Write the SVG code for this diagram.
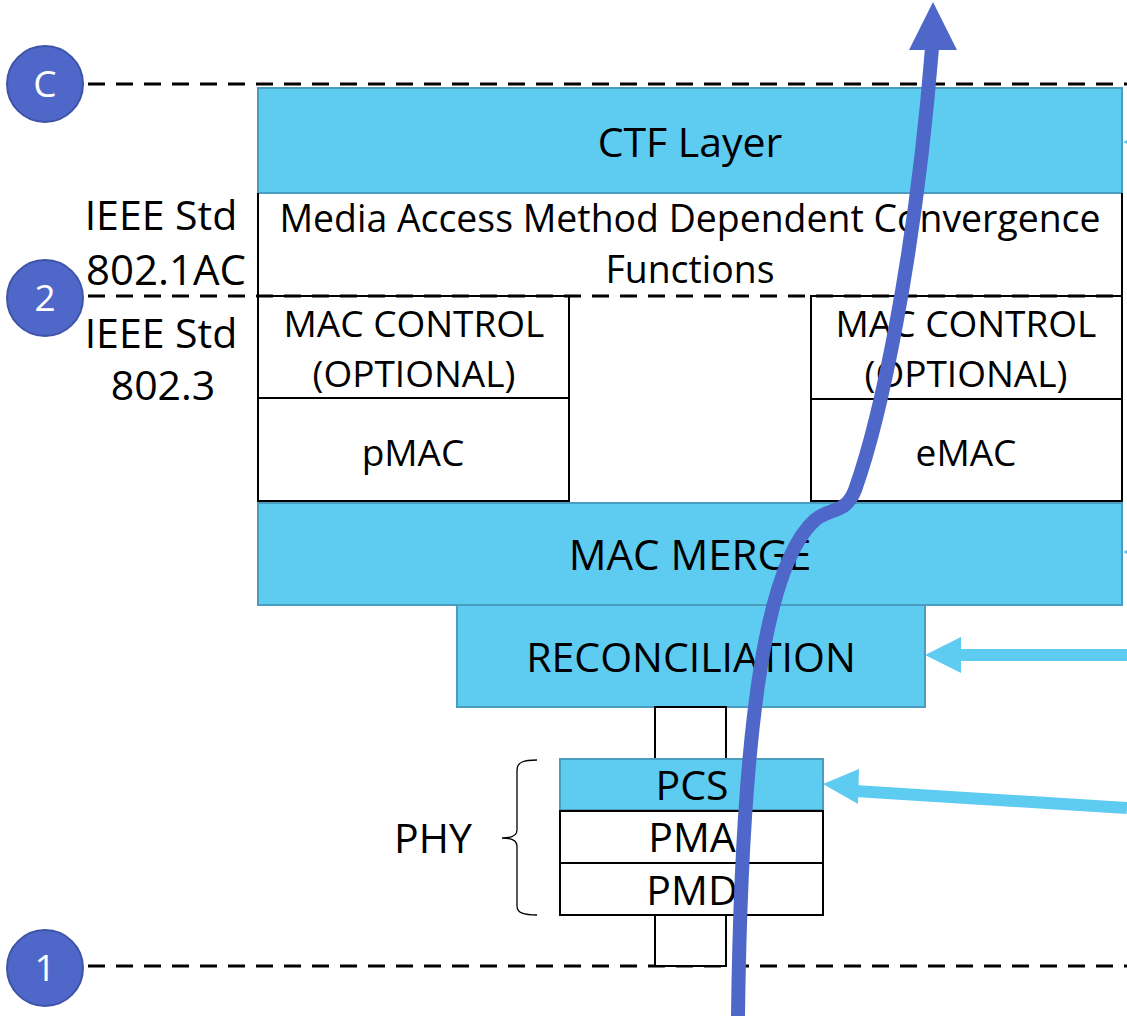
<svg xmlns="http://www.w3.org/2000/svg" width="1127" height="1016" viewBox="0 0 1127 1016">
<style>
text{font-family:"Open Sans","Liberation Sans",sans-serif;fill:#000;text-anchor:middle}
.blue{fill:#5ECBF1;stroke:#4A9DBE;stroke-width:2}
.wht{fill:#fff;stroke:#000;stroke-width:2}
.dash{stroke:#000;stroke-width:3;stroke-dasharray:17 11;fill:none}
.circ{fill:#4F67C8;stroke:#3E54A8;stroke-width:2}
.ct{fill:#fff;font-size:37px}
.l36{font-size:37px}
.l40{font-size:41px}
.l42{font-size:42px}
.cyan{stroke:#5ECBF1;stroke-width:12;fill:none}
</style>
<rect width="1127" height="1016" fill="#fff"/>
<g id="lines">
<line class="dash" x1="88" y1="84" x2="1127" y2="84"/>
<line class="dash" x1="88" y1="966" x2="1127" y2="966"/>
</g>
<g id="ctf"><rect class="blue" x="258" y="88" width="864" height="105"/><text class="l40" x="690" y="157">CTF Layer</text></g>
<g id="mamdcf"><path d="M258,193 V296 M1122,193 V296" stroke="#000" stroke-width="2" fill="none"/><text x="690" y="232" style="font-size:37.4px">Media Access Method Dependent Convergence</text><text x="690" y="283" style="font-size:37.4px">Functions</text></g>
<g id="macctl-left"><rect class="wht" x="258" y="296" width="311" height="102"/><text class="l36" x="414" y="337">MAC CONTROL</text><text class="l36" x="414" y="387">(OPTIONAL)</text></g>
<g id="pmac"><rect class="wht" x="258" y="398" width="311" height="103"/><text class="l36" x="413" y="466">pMAC</text></g>
<g id="macctl-right"><rect class="wht" x="811" y="296" width="311" height="103"/><text class="l36" x="966" y="337">MAC CONTROL</text><text class="l36" x="966" y="387">(OPTIONAL)</text></g>
<g id="emac"><rect class="wht" x="811" y="399" width="311" height="102"/><text class="l36" x="966" y="466">eMAC</text></g>
<g id="line2"><line class="dash" x1="88" y1="296" x2="1122" y2="296"/></g>
<g id="macmerge"><rect class="blue" x="258" y="503" width="864" height="102"/><text class="l42" x="690" y="570">MAC MERGE</text></g>
<g id="recon"><rect class="blue" x="457" y="605" width="468" height="102"/><text class="l40" x="691" y="672">RECONCILIATION</text></g>
<g id="mii-top"><rect class="wht" x="655" y="707" width="71" height="52"/></g>
<g id="pcs"><rect class="blue" x="560" y="759" width="263" height="51"/><text class="l40" x="692" y="800">PCS</text></g>
<g id="pma"><rect class="wht" x="560" y="811" width="263" height="52"/><text class="l40" x="692" y="852">PMA</text></g>
<g id="pmd"><rect class="wht" x="560" y="863" width="263" height="52"/><text class="l40" x="692" y="905">PMD</text></g>
<g id="mdi"><rect class="wht" x="655" y="915" width="71" height="51"/></g>
<g id="labels">
<text class="l40" x="161" y="230">IEEE Std</text>
<text class="l42" x="166" y="285">802.1AC</text>
<text class="l40" x="161" y="348">IEEE Std</text>
<text class="l40" x="163" y="400">802.3</text>
<text class="l40" x="433" y="853">PHY</text>
<path d="M537,760 C524,760 517,762 517,770 L517,830 C517,836 512,838 502,838 C512,838 517,840 517,846 L517,906 C517,913 524,915 537,915" fill="none" stroke="#000" stroke-width="1.3"/>
</g>
<g id="markers">
<g id="mC"><circle class="circ" cx="45" cy="84" r="38"/><text class="ct" x="45" y="97">C</text></g>
<g id="m2"><circle class="circ" cx="45" cy="298" r="38"/><text class="ct" x="45" y="311">2</text></g>
<g id="m1"><circle class="circ" cx="45" cy="968" r="38"/><text class="ct" x="45" y="981">1</text></g>
</g>
<g id="connectors">
<line class="cyan" x1="1127" y1="655" x2="955" y2="655"/>
<polygon points="925,655 961,637 961,673" fill="#5ECBF1"/>
<line class="cyan" x1="1127" y1="808" x2="855" y2="791"/>
<polygon points="823,784 859,769 858,804" fill="#5ECBF1"/>
<polygon points="1123,142 1140,133 1140,151" fill="#5ECBF1"/>
<polygon points="1123,552 1140,543 1140,561" fill="#5ECBF1"/>
<path d="M738,1016 C742,700 770,560 815,520 C830,507 845,515 855,490 C880,420 915,260 932,48" fill="none" stroke="#4F67C8" stroke-width="14"/>
<polygon points="933,2 909,50 957,50" fill="#4F67C8"/>
</g>
</svg>
